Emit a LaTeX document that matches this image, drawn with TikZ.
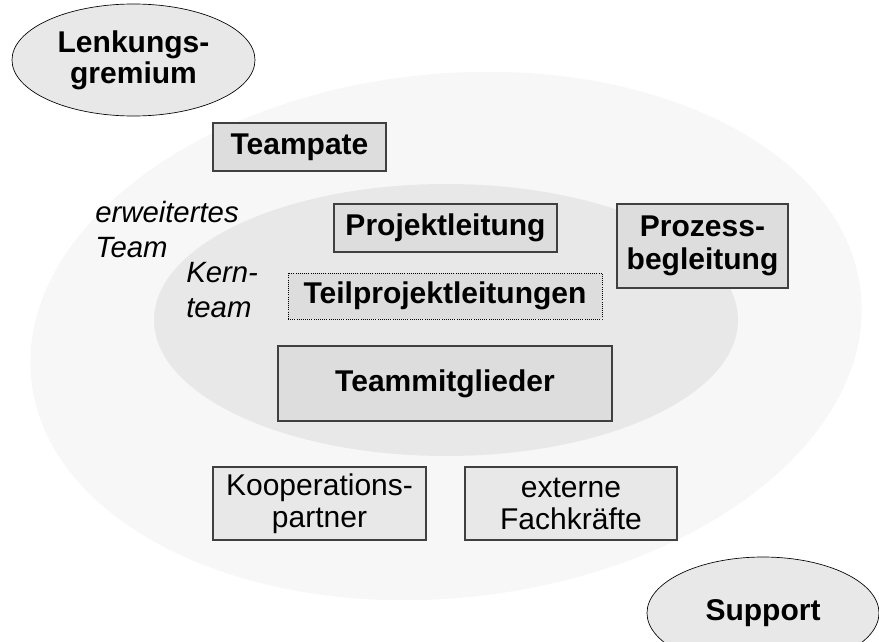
\documentclass[tikz,border=0pt]{standalone}
\usepackage{fontspec}
\setmainfont{Liberation Sans}
\usepackage{xcolor}
\usepackage{tikz}
\usetikzlibrary{shapes.geometric}
\definecolor{outerbg}{RGB}{247,247,247}
\definecolor{innerbg}{RGB}{232,232,232}
\definecolor{boxfill}{RGB}{221,221,221}
\definecolor{lightbox}{RGB}{232,232,232}
\definecolor{boxline}{RGB}{64,64,64}
\tikzset{boxsize/.style 2 args={minimum width=#1*0.75pt, minimum height=#2*0.75pt}}

\begin{document}
\begin{tikzpicture}[x=0.75pt, y=-0.75pt,
  role/.style={draw=boxline, fill=boxfill, line width=0.9pt, inner sep=0pt,
    font=\fontsize{22.5}{24.5}\selectfont\bfseries, align=center},
  extrole/.style={role, fill=lightbox, font=\fontsize{22.5}{24}\selectfont},
  board/.style={ellipse, draw=black, line width=0.5pt, fill=lightbox,
    inner sep=0pt, font=\fontsize{22.5}{23}\selectfont\bfseries, align=center},
  ring/.style={font=\fontsize{22}{26}\selectfont\itshape, align=left,
    anchor=north west, inner sep=0pt},
]
  \clip (0,0) rectangle (879,642);

  % Team rings
  \fill[outerbg, rotate around={6:(446,336)}] (446,336) ellipse [x radius=417, y radius=262];
  \fill[innerbg] (446,320) ellipse [x radius=292, y radius=136];

  \node[ring] (erw) at (95,201) {erweitertes\\Team};
  \node[ring] (kern) at (186,262) {Kern-\\team};

  % Roles
  \node[role, boxsize={173}{48}] (pate) at (299.5,147) {Teampate};
  \node[role, boxsize={223}{48}] (pl) at (445.5,228) {Projektleitung};
  \node[role, boxsize={314}{46}, draw=black, line width=0.6pt, densely dotted]
    (tpl) at (445,296) {Teilprojektleitungen};
  \node[role, boxsize={334}{75}] (tm) at (445,383.5) {Teammitglieder};
  \node[role, boxsize={171}{84}] (proz) at (702.5,246) {Prozess-\\begleitung};

  \node[extrole, boxsize={213}{73}] (koop) at (319.5,503.5) {Kooperations-\\partner};
  \node[extrole, boxsize={212}{73}] (ext) at (571,503.5) {externe\\Fachkräfte};

  % Outside the team
  \node[board, boxsize={243}{112}] (lenk) at (133.5,60) {Lenkungs-\\gremium};
  \node[board, boxsize={232}{112}] (supp) at (763,613) {Support};
\end{tikzpicture}
\end{document}
